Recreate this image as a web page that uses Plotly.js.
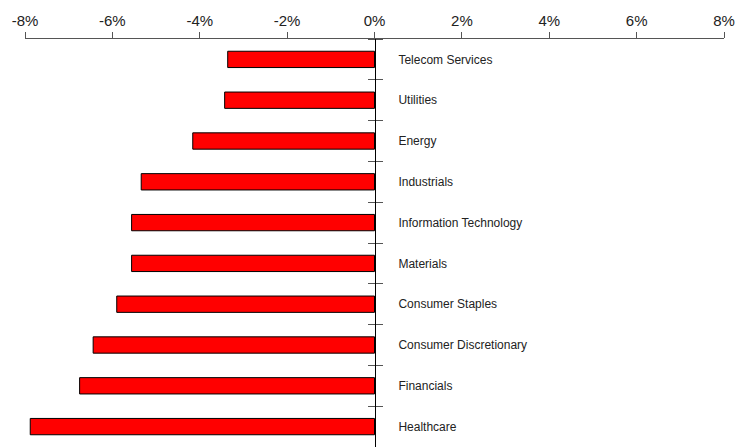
<!DOCTYPE html>
<html>
<head>
<meta charset="utf-8">
<script src="https://cdn.plot.ly/plotly-3.0.1.min.js"></script>
<style>html,body{margin:0;padding:0;background:#fff;}#chart{width:753px;height:447px;}</style>
</head>
<body>
<div id="chart"></div>
<script>
const categories = ["Telecom Services","Utilities","Energy","Industrials","Information Technology","Materials","Consumer Staples","Consumer Discretionary","Financials","Healthcare"];
const values = [-3.36,-3.43,-4.16,-5.34,-5.56,-5.56,-5.90,-6.44,-6.75,-7.88];
const xTickVals = [-8,-6,-4,-2,0,2,4,6,8];
const xTickText = xTickVals.map(v => v + "%");

const traces = [
  {
    type: "bar",
    orientation: "h",
    x: values,
    y: categories,
    xaxis: "x",
    yaxis: "y",
    marker: {color: "#FF0000", line: {color: "#000000", width: 1}},
    hoverinfo: "x+y"
  },
  {
    type: "scatter",
    mode: "none",
    x: values.map(() => 0),
    y: categories,
    xaxis: "x",
    yaxis: "y2",
    hoverinfo: "skip",
    showlegend: false
  }
];

const layout = {
  width: 753,
  height: 447,
  margin: {l: 25, r: 29, t: 39, b: 0, pad: 0},
  paper_bgcolor: "#ffffff",
  plot_bgcolor: "#ffffff",
  showlegend: false,
  bargap: 0.6,
  font: {family: "Arial, 'Liberation Sans', sans-serif", color: "#222"},
  xaxis: {
    side: "top",
    range: [-8, 8],
    tickvals: xTickVals,
    ticktext: xTickText,
    showgrid: false,
    zeroline: false,
    showline: true,
    linecolor: "#555",
    linewidth: 1,
    ticks: "outside",
    ticklen: 6,
    tickcolor: "#555",
    tickfont: {size: 15, color: "#222"},
    fixedrange: true
  },
  yaxis: {
    type: "category",
    categoryorder: "array",
    categoryarray: categories,
    range: [9.5, -0.5],
    anchor: "free",
    position: 0.5,
    side: "right",
    showline: true,
    linecolor: "#000",
    linewidth: 1.5,
    showgrid: false,
    zeroline: false,
    ticks: "outside",
    tickson: "boundaries",
    ticklen: 7,
    tickcolor: "#555",
    tickwidth: 1,
    ticklabelstandoff: 20,
    tickfont: {size: 12, color: "#222"},
    fixedrange: true
  },
  yaxis2: {
    type: "category",
    categoryorder: "array",
    categoryarray: categories,
    range: [9.5, -0.5],
    overlaying: "y",
    anchor: "free",
    position: 0.5,
    side: "left",
    showline: false,
    showgrid: false,
    zeroline: false,
    ticks: "outside",
    tickson: "boundaries",
    ticklen: 7,
    tickcolor: "#555",
    tickwidth: 1,
    showticklabels: false,
    fixedrange: true
  }
};

Plotly.newPlot("chart", traces, layout, {displayModeBar: false, staticPlot: true});
</script>
</body>
</html>
